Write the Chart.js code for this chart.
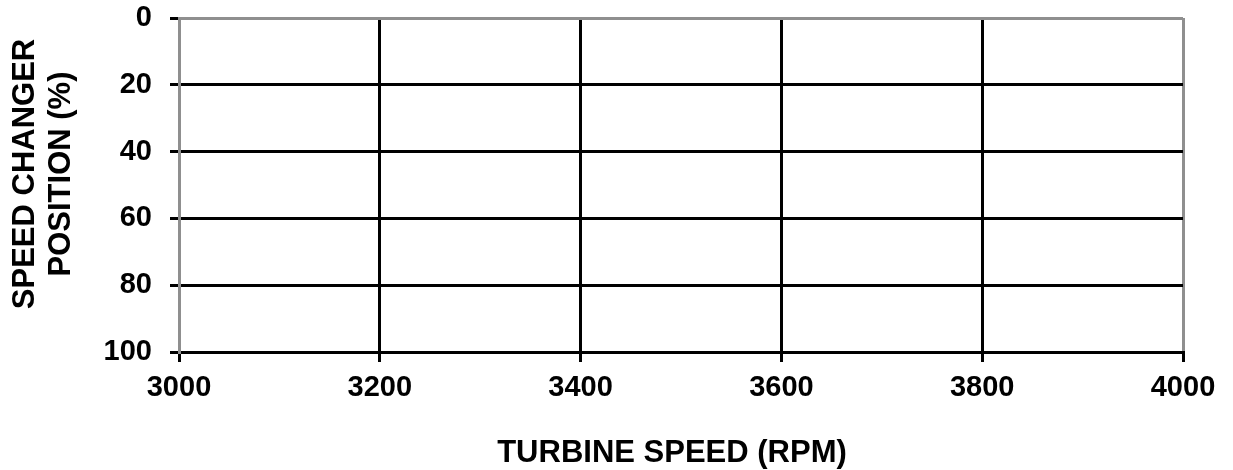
<!DOCTYPE html>
<html>
<head>
<meta charset="utf-8">
<script src="https://cdn.jsdelivr.net/npm/chart.js@4"></script>
<style>
  html, body { margin: 0; padding: 0; background: #ffffff; }
  #wrap { width: 1233px; height: 470px; position: relative; }
</style>
</head>
<body>
<div id="wrap"><canvas id="c" width="1233" height="470"></canvas></div>
<script>
// ---- data ----
const xTicks = [3000, 3200, 3400, 3600, 3800, 4000];
const yTicks = [0, 20, 40, 60, 80, 100];
const xTitle = 'TURBINE SPEED (RPM)';
const yTitle = ['SPEED CHANGER', 'POSITION (%)'];
const seriesPoints = []; // empty chart: no plotted data

const GREY = '#8f8f8f';
const BLACK = '#000000';
const FONT = '"Liberation Sans", Arial, sans-serif';

const titlesPlugin = {
  id: 'axisTitles',
  afterDraw(chart) {
    const ctx = chart.ctx;
    const a = chart.chartArea;
    ctx.save();
    ctx.fillStyle = BLACK;
    ctx.font = 'bold 31px ' + FONT;
    ctx.textAlign = 'center';
    ctx.textBaseline = 'alphabetic';
    // x title
    ctx.fillText(xTitle, (a.left + a.right) / 2 - 9, a.bottom + 110);
    // y title (rotated)
    const cy = (a.top + a.bottom) / 2 - 11;
    ctx.translate(0, cy);
    ctx.rotate(-Math.PI / 2);
    ctx.fillText(yTitle[0], 0, a.left - 145);
    ctx.fillText(yTitle[1], 0, a.left - 109);
    ctx.restore();
  }
};

new Chart(document.getElementById('c'), {
  type: 'scatter',
  data: { datasets: [{ data: seriesPoints, showLine: false }] },
  options: {
    responsive: false,
    animation: false,
    events: [],
    layout: { padding: { top: 18, right: 50, left: 0, bottom: 0 } },
    plugins: { legend: { display: false }, tooltip: { enabled: false } },
    scales: {
      x: {
        type: 'linear',
        min: xTicks[0],
        max: xTicks[xTicks.length - 1],
        afterBuildTicks: s => { s.ticks = xTicks.map(v => ({ value: v })); },
        afterFit: s => { s.height = 118; s.paddingLeft = 0; s.paddingRight = 0; },
        ticks: { color: BLACK, font: { family: FONT, size: 29, weight: 'bold' }, padding: 9, maxRotation: 0,
                 callback: v => String(v) },
        grid: {
          color: c => (c.tick && (c.tick.value === xTicks[xTicks.length - 1] || c.tick.value === xTicks[0])) ? GREY : BLACK,
          lineWidth: 3,
          tickColor: BLACK,
          tickLength: 10,
          tickWidth: 3
        },
        border: { display: true, color: BLACK, width: 3 },
        title: { display: false }
      },
      y: {
        type: 'linear',
        reverse: true,
        min: yTicks[0],
        max: yTicks[yTicks.length - 1],
        afterBuildTicks: s => { s.ticks = yTicks.map(v => ({ value: v })); },
        afterFit: s => { s.width = 179; s.paddingTop = 0; s.paddingBottom = 0; },
        ticks: { color: BLACK, font: { family: FONT, size: 29, weight: 'bold' }, padding: 18,
                 callback: v => String(v) },
        grid: {
          color: c => (c.tick && c.tick.value === yTicks[0]) ? GREY : BLACK,
          lineWidth: 3,
          tickColor: BLACK,
          tickLength: 9,
          tickWidth: 3
        },
        border: { display: true, color: GREY, width: 3 },
        title: { display: false }
      }
    }
  },
  plugins: [titlesPlugin]
});
</script>
</body>
</html>
